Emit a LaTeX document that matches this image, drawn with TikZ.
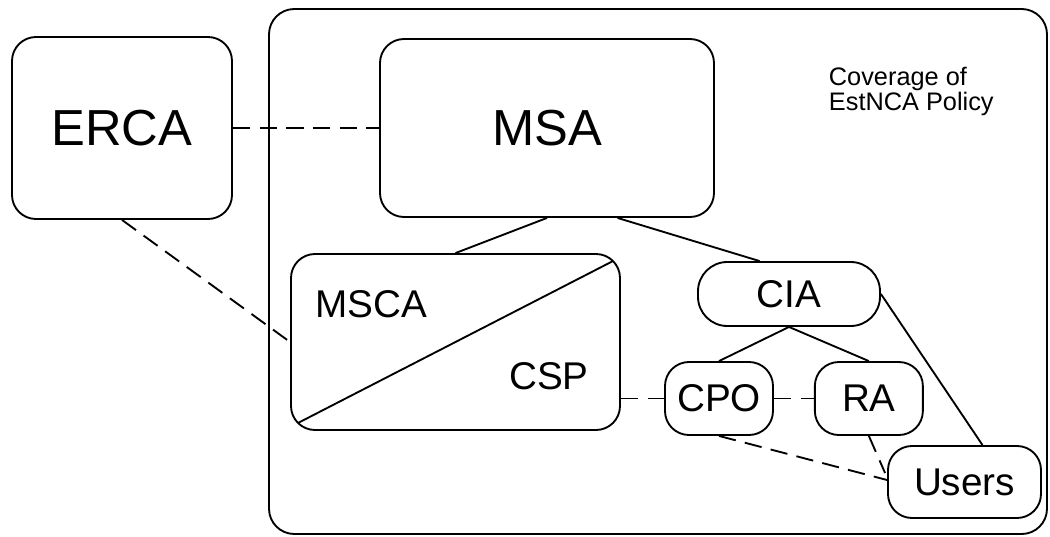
\documentclass[tikz,border=0pt]{standalone}
\usepackage{fontspec}
\setmainfont{Liberation Sans}
\usetikzlibrary{positioning}
\usetikzlibrary{calc}

\begin{document}
\begin{tikzpicture}[x=0.75pt,y=-0.75pt,line width=1.4pt,
		nodes={draw, rounded corners=18pt, inner sep=0pt},
		bigtxt/.style={font=\fontsize{38}{46}\selectfont},
		midtxt/.style={font=\fontsize{29}{35}\selectfont},
		dsh/.style={dash pattern=on 13pt off 7pt}]
		\useasboundingbox (0,0) rectangle (1050,536);
		\draw[rounded corners=19pt] (269,9) rectangle (1047,534);
		\node (erca) [bigtxt, minimum width=165pt, minimum height=136.5pt] at (122,128) {ERCA};
		\node (msa) [bigtxt, minimum width=250.5pt, minimum height=133.5pt] at (547,128) {MSA};
		\node (msca) [minimum width=246.75pt, minimum height=132pt] at (455.5,342) {};
		\node (mscatxt) [midtxt, draw=none] at (371,304) {MSCA};
		\node (csptxt) [midtxt, draw=none] at (549,376) {CSP};
		\node (cia) [midtxt, rounded corners=22pt, minimum width=136.5pt, minimum height=48pt] at (789,294) {CIA};
		\node (cpo) [midtxt, minimum width=81pt, minimum height=54.75pt] at (719,398.5) {CPO};
		\node (ra) [midtxt, right=30pt of cpo, minimum width=81pt, minimum height=54.75pt] {RA};
		\node (users) [midtxt, minimum width=114.75pt, minimum height=54pt] at (964.5,482) {Users};
		\node (cov) [draw=none, anchor=north west, align=left, font=\fontsize{19}{19}\selectfont] at (828,66) {Coverage of\\EstNCA Policy};
		\draw ([shift={(6pt,6pt)}]msca.south west) -- ([shift={(-6pt,-6pt)}]msca.north east);
		\draw[dsh] (erca) -- (msa);
		\draw[dsh] (erca.south) -- (msca.west);
		\draw (msa.south) -- (msca.north);
		\draw ($(msa.south)!0.42!(msa.south east)$) -- ($(cia.north west)!0.68!(cia.north)$);
		\draw (cia.south) -- (cpo.north);
		\draw (cia.south) -- (ra.north);
		\draw (cia.east) -- ($(users.north)+(18,0)$);
		\draw[dsh] (msca.east |- cpo.west) -- (cpo.west);
		\draw[dsh] (cpo) -- (ra);
		\draw[dsh] (cpo.south) -- ($(users.west)+(0,-2)$);
		\draw[dsh] (ra.south) -- ($(users.west)+(-2,-9)$);
\end{tikzpicture}
\end{document}
